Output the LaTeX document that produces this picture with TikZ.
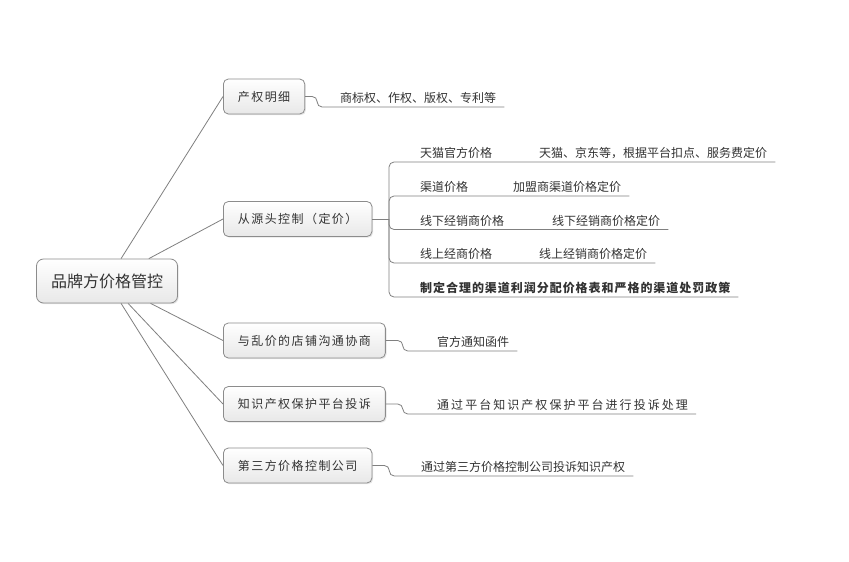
\documentclass[tikz,border=0pt]{standalone}
\usepackage{fontspec}
\setmainfont{Noto Sans CJK SC}
\newfontfamily\wideCJK[LetterSpace=12]{Noto Sans CJK SC}
\newfontfamily\spreadCJK[LetterSpace=17]{Noto Sans CJK SC}
\newfontfamily\boldCJK[LetterSpace=8]{Noto Sans CJK SC}
\usetikzlibrary{shadows}
\definecolor{linegray}{HTML}{808080}
\definecolor{boxline}{HTML}{8C8C8C}
\definecolor{ink}{HTML}{333333}
\begin{document}
\begin{tikzpicture}[x=1pt,y=-1pt,
    every node/.style={text=ink},
    topic/.style={draw=boxline, line width=0.8pt, rounded corners=5pt,
      top color=white, bottom color=black!9,
      drop shadow={shadow xshift=1.2pt, shadow yshift=-1.2pt, opacity=.2},
      minimum height=35pt, inner xsep=14.5pt, anchor=west,
      font=\wideCJK\fontsize{12}{14}\selectfont},
    leaf/.style={anchor=south west, inner xsep=8pt, inner ysep=0pt,
      text height=9pt, text depth=4pt, font=\fontsize{12}{14}\selectfont},
    link/.style={draw=linegray, line width=0.8pt},
    elbow/.style={link, rounded corners=5pt}]
  \path[fill=white, use as bounding box] (0,0) rectangle (849,562);

  \node[topic, anchor=center, minimum width=140pt, minimum height=44pt, rounded corners=7pt,
    font=\fontsize{16}{18}\selectfont] (brand) at (107,281) {品牌方价格管控};

  \node[topic] (ip) at (223,96.5) {产权明细};
  \node[topic] (source) at (223,219) {从源头控制（定价）};
  \node[topic] (talk) at (223,340.5) {与乱价的店铺沟通协商};
  \node[topic] (complain) at (223,404) {知识产权保护平台投诉};
  \node[topic] (agency) at (223,465.5) {第三方价格控制公司};

  \foreach \t in {ip,source,talk,complain,agency}
    \draw[link] (brand) -- (\t.west);

  \node[leaf] (ipL) at (332,107) {商标权、作权、版权、专利等};
  \draw[elbow] (ip.east) -- ++(12,0) |- (ipL.south east);

  \node[leaf] (tmall) at (412,162) {天猫官方价格};
  \node[leaf] (tmallL) at (531,162) {天猫、京东等，根据平台扣点、服务费定价};
  \node[leaf] (channel) at (412,196) {渠道价格};
  \node[leaf] (channelL) at (505,196) {加盟商渠道价格定价};
  \node[leaf] (offline) at (412,229.5) {线下经销商价格};
  \node[leaf] (offlineL) at (544,229.5) {线下经销商价格定价};
  \node[leaf] (online) at (412,263) {线上经商价格};
  \node[leaf] (onlineL) at (531,263) {线上经销商价格定价};
  \node[leaf, font=\boldCJK\bfseries\fontsize{12}{14}\selectfont] (policy) at (412,297)
    {制定合理的渠道利润分配价格表和严格的渠道处罚政策};

  \coordinate (hub) at (389,219);
  \draw[link] (source.east) -- (hub);
  \foreach \g in {tmallL,channelL,offlineL,onlineL,policy}
    \draw[elbow] (hub) |- (\g.south east);

  \node[leaf] (talkL) at (429,351) {官方通知函件};
  \draw[elbow] (talk.east) -- ++(17,0) |- (talkL.south east);

  \node[leaf, font=\spreadCJK\fontsize{12}{14}\selectfont] (complainL) at (429,414)
    {通过平台知识产权保护平台进行投诉处理};
  \draw[elbow] (complain.east) -- ++(17,0) |- (complainL.south east);

  \node[leaf] (agencyL) at (413,476) {通过第三方价格控制公司投诉知识产权};
  \draw[elbow] (agency.east) -- ++(17,0) |- (agencyL.south east);
\end{tikzpicture}
\end{document}
